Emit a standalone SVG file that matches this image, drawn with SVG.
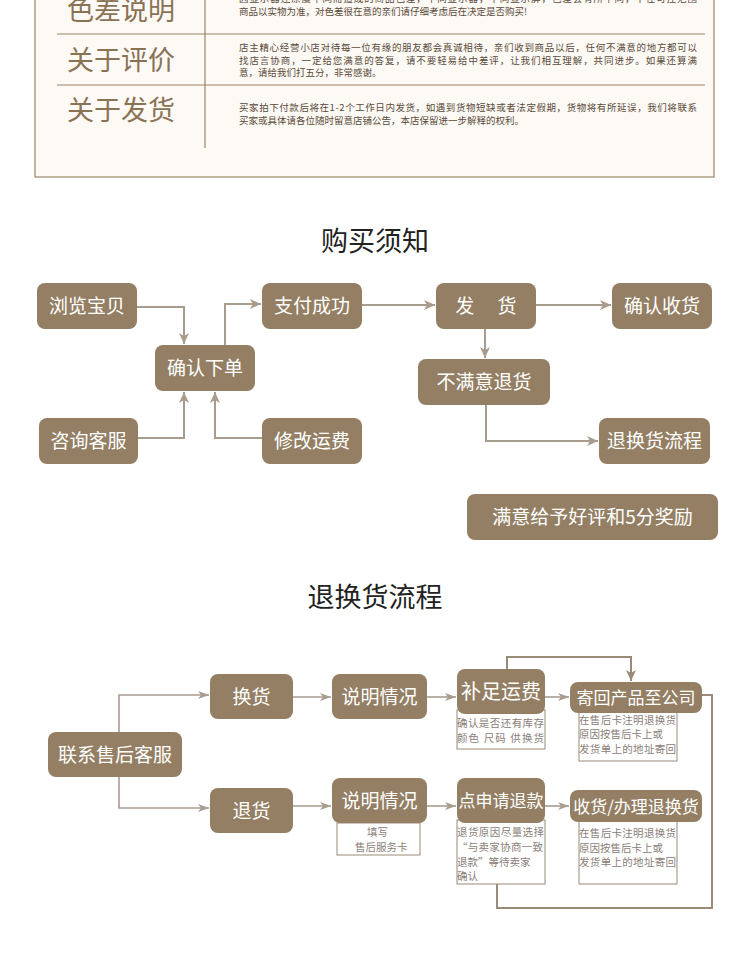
<svg xmlns="http://www.w3.org/2000/svg" width="750" height="964" viewBox="0 0 750 964">
<style>
.panel{fill:#fdf9f5;stroke:#9b8568;stroke-width:1.2}
.sep{stroke:#9b8568;stroke-width:1.2;fill:none}
.lbl{font-family:"Noto Sans CJK SC",sans-serif;font-size:27px;fill:#8a7355}
.small{font-family:"Noto Sans CJK SC",sans-serif;font-size:9.5px;fill:#5a4a3a}
.title{font-family:"Noto Sans CJK SC",sans-serif;font-size:27px;fill:#222;text-anchor:middle}
.box{fill:#947f64}
.bt{font-family:"Noto Sans CJK SC",sans-serif;font-size:19px;fill:#fff;text-anchor:middle}
.bt2{font-family:"Noto Sans CJK SC",sans-serif;font-size:17px;fill:#fff;text-anchor:middle}
.note{fill:#fff;stroke:#9a8a78;stroke-width:1}
.nt{font-family:"Noto Sans CJK SC",sans-serif;font-size:10.5px;fill:#8a8078}
.c1{fill:none;stroke:#a89c8e;stroke-width:2}
.c2{fill:none;stroke:#a89c8e;stroke-width:1.6}
.c3{fill:none;stroke:#9a8a78;stroke-width:2}
</style>
<defs>
<marker id="a1" markerUnits="userSpaceOnUse" markerWidth="12" markerHeight="10" refX="11" refY="5" orient="auto">
<path d="M0,0 L11,5 L0,10 L3,5 z" fill="#a89c8e"/>
</marker>
<marker id="a2" markerUnits="userSpaceOnUse" markerWidth="12" markerHeight="8" refX="11" refY="4" orient="auto">
<path d="M0,0 L11,4 L0,8 L3,4 z" fill="#a89c8e"/>
</marker>
<marker id="a3" markerUnits="userSpaceOnUse" markerWidth="12" markerHeight="10" refX="11" refY="5" orient="auto">
<path d="M0,0 L11,5 L0,10 L3,5 z" fill="#9a8a78"/>
</marker>
</defs>
<rect width="750" height="964" fill="#fff"/>

<g id="notice-panel">
<rect class="panel" x="35" y="-10" width="679" height="187"/>
<line class="sep" x1="57" y1="34" x2="705" y2="34"/>
<line class="sep" x1="57" y1="85" x2="705" y2="85"/>
<line class="sep" x1="205" y1="-10" x2="205" y2="148"/>
<text class="lbl" x="67" y="20">色差说明</text>
<text class="lbl" x="67" y="70">关于评价</text>
<text class="lbl" x="67" y="120">关于发货</text>
<text class="small" x="239" y="2" textLength="458">因显示器还原度不同而造成的商品色差，不同显示器，不同显示屏，色差会有所不同，不在可控范围</text>
<text class="small" x="239" y="15">商品以实物为准，对色差很在意的亲们请仔细考虑后在决定是否购买!</text>
<text class="small" x="239" y="51" textLength="458">店主精心经营小店对待每一位有缘的朋友都会真诚相待，亲们收到商品以后，任何不满意的地方都可以</text>
<text class="small" x="239" y="63.5" textLength="458">找店言协商，一定给您满意的答复，请不要轻易给中差评，让我们相互理解，共同进步。如果还算满</text>
<text class="small" x="239" y="76">意，请给我们打五分，非常感谢。</text>
<text class="small" x="239" y="111" textLength="458">买家拍下付款后将在1-2个工作日内发货，如遇到货物短缺或者法定假期，货物将有所延误，我们将联系</text>
<text class="small" x="239" y="124">买家或具体请各位随时留意店铺公告，本店保留进一步解释的权利。</text>
</g>

<text class="title" x="375" y="251">购买须知</text>

<g id="flow1-connectors">
<path class="c1" d="M137,307 H184 V344" marker-end="url(#a1)"/>
<path class="c1" d="M138,438 H184 V392" marker-end="url(#a1)"/>
<path class="c1" d="M262,438 H215 V392" marker-end="url(#a1)"/>
<path class="c1" d="M225,345 V304 H261" marker-end="url(#a1)"/>
<path class="c1" d="M362,305 H435" marker-end="url(#a1)"/>
<path class="c1" d="M536,305 H611" marker-end="url(#a1)"/>
<path class="c1" d="M485,329 V358" marker-end="url(#a1)"/>
<path class="c1" d="M486,405 V441 H598" marker-end="url(#a1)"/>
</g>

<g id="browse"><rect class="box" x="37" y="283" width="100" height="46" rx="8"/><text class="bt" x="87" y="313">浏览宝贝</text></g>
<g id="confirm-order"><rect class="box" x="155" y="345" width="100" height="46" rx="8"/><text class="bt" x="205" y="375">确认下单</text></g>
<g id="consult"><rect class="box" x="39" y="418" width="99" height="46" rx="8"/><text class="bt" x="88.5" y="448">咨询客服</text></g>
<g id="modify-fee"><rect class="box" x="262" y="418" width="100" height="46" rx="8"/><text class="bt" x="312" y="448">修改运费</text></g>
<g id="pay"><rect class="box" x="262" y="283" width="100" height="46" rx="8"/><text class="bt" x="312" y="313">支付成功</text></g>
<g id="ship"><rect class="box" x="436" y="283" width="100" height="46" rx="8"/><text class="bt" x="486" y="313" xml:space="preserve">发　 货</text></g>
<g id="receive"><rect class="box" x="612" y="283" width="100" height="46" rx="8"/><text class="bt" x="662" y="313">确认收货</text></g>
<g id="unsatisfied"><rect class="box" x="418" y="359" width="132" height="46" rx="8"/><text class="bt" x="484" y="389">不满意退货</text></g>
<g id="return-flow"><rect class="box" x="599" y="418" width="111" height="46" rx="8"/><text class="bt" x="654.5" y="448">退换货流程</text></g>
<g id="satisfied"><rect class="box" x="467" y="494" width="251" height="46" rx="8"/><text class="bt" x="592.5" y="524">满意给予好评和5分奖励</text></g>

<text class="title" x="375" y="607">退换货流程</text>

<g id="flow2-connectors">
<path class="c2" d="M119,732 V695 H209" marker-end="url(#a2)"/>
<path class="c2" d="M119,777 V808 H209" marker-end="url(#a2)"/>
<path class="c2" d="M293,697 H331" marker-end="url(#a2)"/>
<path class="c2" d="M293,806 H331" marker-end="url(#a2)"/>
<path class="c2" d="M427,697 H456" marker-end="url(#a2)"/>
<path class="c2" d="M545,697 H569" marker-end="url(#a2)"/>
<path class="c2" d="M427,806 H456" marker-end="url(#a2)"/>
<path class="c2" d="M545,806 H569" marker-end="url(#a2)"/>
<path class="c3" d="M507,669 V657 H631 V681" marker-end="url(#a3)"/>
<path class="c3" d="M702,695 H712 V908 H497 V884"/>
</g>

<g id="contact-service"><rect class="box" x="48" y="732" width="134" height="45" rx="8"/><text class="bt" x="115" y="762">联系售后客服</text></g>
<g id="exchange"><rect class="box" x="210" y="674" width="83" height="45" rx="8"/><text class="bt" x="251.5" y="704">换货</text></g>
<g id="return"><rect class="box" x="210" y="788" width="83" height="45" rx="8"/><text class="bt" x="251.5" y="818">退货</text></g>
<g id="explain1"><rect class="box" x="332" y="674" width="95" height="45" rx="8"/><text class="bt" x="379.5" y="704">说明情况</text></g>
<g id="explain2">
<rect class="note" x="337" y="823" width="83" height="32"/>
<text class="nt" x="367" y="836">填写</text>
<text class="nt" x="355" y="851">售后服务卡</text>
<rect class="box" x="332" y="778" width="95" height="45" rx="8"/><text class="bt" x="379.5" y="808">说明情况</text>
</g>
<g id="add-freight">
<rect class="note" x="457" y="710" width="88" height="39"/>
<text class="nt" x="457" y="727" textLength="87">确认是否还有库存</text>
<text class="nt" x="457" y="742" textLength="87" xml:space="preserve">颜色 尺码 供换货</text>
<rect class="box" x="457" y="669" width="88" height="45" rx="8"/><text class="bt" x="501" y="699" style="font-size:20px">补足运费</text>
</g>
<g id="send-back">
<rect class="note" x="579" y="710" width="98" height="51"/>
<text class="nt" x="579" y="724" textLength="97">在售后卡注明退换货</text>
<text class="nt" x="579" y="738">原因按售后卡上或</text>
<text class="nt" x="579" y="753" textLength="97">发货单上的地址寄回</text>
<rect class="box" x="570" y="682" width="132" height="31" rx="8"/><text class="bt2" x="636" y="704">寄回产品至公司</text>
</g>
<g id="apply-refund">
<rect class="note" x="457" y="820" width="88" height="64"/>
<text class="nt" x="457" y="836" textLength="87">退货原因尽量选择</text>
<text class="nt" x="457" y="851" textLength="86">“与卖家协商一致</text>
<text class="nt" x="457" y="866">退款”等待卖家</text>
<text class="nt" x="457" y="880">确认</text>
<rect class="box" x="457" y="778" width="88" height="45" rx="8"/><text class="bt2" x="501" y="807">点申请退款</text>
</g>
<g id="handle-return">
<rect class="note" x="579" y="820" width="98" height="64"/>
<text class="nt" x="579" y="837" textLength="97">在售后卡注明退换货</text>
<text class="nt" x="579" y="852">原因按售后卡上或</text>
<text class="nt" x="579" y="866" textLength="97">发货单上的地址寄回</text>
<rect class="box" x="570" y="790" width="132" height="32" rx="8"/><text class="bt2" x="636" y="813">收货/办理退换货</text>
</g>
</svg>
